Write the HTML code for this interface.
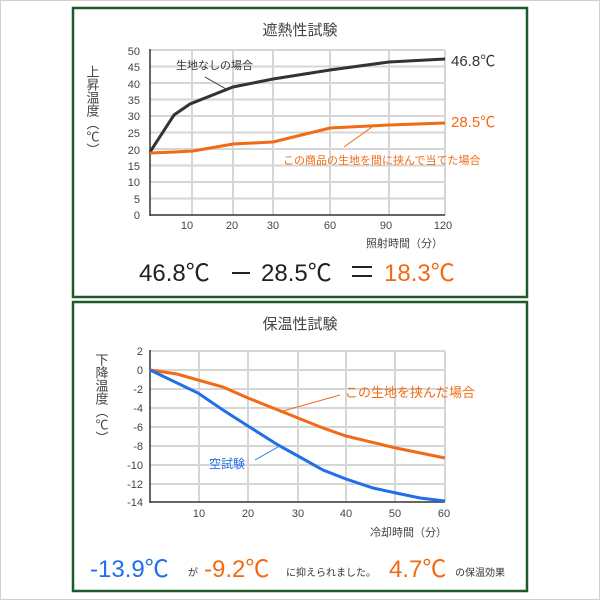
<!DOCTYPE html>
<html><head><meta charset="utf-8"><style>
html,body{margin:0;padding:0;background:#fff;}
svg{display:block;}
text{font-family:"Liberation Sans","Noto Sans CJK JP",sans-serif;}
</style></head><body>
<svg width="600" height="600" viewBox="0 0 600 600" xmlns="http://www.w3.org/2000/svg">
<rect x="0.5" y="0.5" width="599" height="599" fill="#fff" stroke="#cfcfcf"/>
<rect x="73" y="8" width="454" height="289" fill="#fff" stroke="#1f5a2a" stroke-width="2.5"/>
<rect x="73" y="302" width="454" height="289" fill="#fff" stroke="#1f5a2a" stroke-width="2.5"/>

<!-- Chart 1 -->
<text x="300" y="35" text-anchor="middle" font-size="15" fill="#444">遮熱性試験</text>
<g stroke="#d6d6d6" stroke-width="2">
<line x1="150" y1="50" x2="445" y2="50"/><line x1="150" y1="66.5" x2="445" y2="66.5"/><line x1="150" y1="83" x2="445" y2="83"/><line x1="150" y1="99.5" x2="445" y2="99.5"/><line x1="150" y1="116" x2="445" y2="116"/><line x1="150" y1="132.5" x2="445" y2="132.5"/><line x1="150" y1="149" x2="445" y2="149"/><line x1="150" y1="165.5" x2="445" y2="165.5"/><line x1="150" y1="182" x2="445" y2="182"/><line x1="150" y1="198.5" x2="445" y2="198.5"/>
<line x1="192" y1="50" x2="192" y2="215"/><line x1="233" y1="50" x2="233" y2="215"/><line x1="273" y1="50" x2="273" y2="215"/><line x1="330" y1="50" x2="330" y2="215"/><line x1="389" y1="50" x2="389" y2="215"/><line x1="445" y1="50" x2="445" y2="215"/>
</g>
<line x1="150" y1="49" x2="150" y2="216" stroke="#333" stroke-width="1.5"/>
<line x1="150" y1="215" x2="445" y2="215" stroke="#333" stroke-width="1.5"/>
<g font-size="11" fill="#444" text-anchor="end">
<text x="140" y="55">50</text><text x="140" y="71">45</text><text x="140" y="88">40</text><text x="140" y="104">35</text><text x="140" y="120">30</text><text x="140" y="137">25</text><text x="140" y="154">20</text><text x="140" y="170">15</text><text x="140" y="186">10</text><text x="140" y="203">5</text><text x="140" y="219">0</text>
</g>
<g font-size="11" fill="#444" text-anchor="middle">
<text x="187" y="229">10</text><text x="232" y="229">20</text><text x="273" y="229">30</text><text x="330" y="229">60</text><text x="386" y="229">90</text><text x="443" y="229">120</text>
</g>
<text x="443" y="247" text-anchor="end" font-size="11" fill="#444">照射時間（分）</text>
<text x="92" y="65" font-size="13" fill="#444" writing-mode="tb">上昇温度（℃）</text>
<polyline points="150,152 174,115 190,104 233,87 273,79 330,70 389,62 445,59" fill="none" stroke="#333" stroke-width="3"/>
<polyline points="150,153 175,152 193,151 233,144 273,142 330,128 389,125 445,123" fill="none" stroke="#f26a13" stroke-width="3"/>
<text x="176" y="69" font-size="11" fill="#333">生地なしの場合</text>
<line x1="205" y1="77" x2="226" y2="89" stroke="#333" stroke-width="1"/>
<text x="451" y="66" font-size="15" fill="#333">46.8℃</text>
<text x="451" y="127" font-size="15" fill="#f26a13">28.5℃</text>
<text x="283" y="164" font-size="11" fill="#f26a13">この商品の生地を間に挟んで当てた場合</text>
<line x1="344" y1="147" x2="372" y2="127" stroke="#f26a13" stroke-width="1"/>
<text x="139" y="281" font-size="24" fill="#222">46.8℃</text>
<rect x="232" y="272" width="18" height="2" fill="#222"/>
<text x="261" y="281" font-size="24" fill="#222">28.5℃</text>
<rect x="352" y="266" width="20" height="2" fill="#222"/>
<rect x="352" y="275" width="20" height="2" fill="#222"/>
<text x="384" y="281" font-size="24" fill="#f26a13">18.3℃</text>

<!-- Chart 2 -->
<text x="300" y="329" text-anchor="middle" font-size="15" fill="#444">保温性試験</text>
<g stroke="#d6d6d6" stroke-width="2">
<line x1="150" y1="351" x2="445" y2="351"/><line x1="150" y1="370" x2="445" y2="370"/><line x1="150" y1="389" x2="445" y2="389"/><line x1="150" y1="408" x2="445" y2="408"/><line x1="150" y1="427" x2="445" y2="427"/><line x1="150" y1="446" x2="445" y2="446"/><line x1="150" y1="465" x2="445" y2="465"/><line x1="150" y1="484" x2="445" y2="484"/>
<line x1="199" y1="351" x2="199" y2="502"/><line x1="248" y1="351" x2="248" y2="502"/><line x1="298" y1="351" x2="298" y2="502"/><line x1="346" y1="351" x2="346" y2="502"/><line x1="395" y1="351" x2="395" y2="502"/><line x1="445" y1="351" x2="445" y2="502"/>
</g>
<line x1="150" y1="350" x2="150" y2="503" stroke="#333" stroke-width="1.5"/>
<line x1="150" y1="502" x2="445" y2="502" stroke="#333" stroke-width="1.5"/>
<g font-size="11" fill="#444" text-anchor="end">
<text x="143" y="355">2</text><text x="143" y="374">0</text><text x="143" y="393">-2</text><text x="143" y="412">-4</text><text x="143" y="431">-6</text><text x="143" y="450">-8</text><text x="143" y="469">-10</text><text x="143" y="488">-12</text><text x="143" y="506">-14</text>
</g>
<g font-size="11" fill="#444" text-anchor="middle">
<text x="199" y="517">10</text><text x="248" y="517">20</text><text x="298" y="517">30</text><text x="346" y="517">40</text><text x="395" y="517">50</text><text x="444" y="517">60</text>
</g>
<text x="447" y="536" text-anchor="end" font-size="11" fill="#444">冷却時間（分）</text>
<text x="101" y="353" font-size="13" fill="#444" writing-mode="tb">下降温度（℃）</text>
<polyline points="150,370 177,374 198,380 223,387 248,398 298,418 323,428 346,436 396,448 445,458" fill="none" stroke="#f26a13" stroke-width="3"/>
<polyline points="150,370 198,393 223,410 248,426 278,445 298,456 323,470 346,479 373,488 396,493 420,498 445,501" fill="none" stroke="#1f6fe8" stroke-width="3"/>
<text x="345" y="397" font-size="13" fill="#f26a13">この生地を挟んだ場合</text>
<line x1="340" y1="395" x2="283" y2="411" stroke="#f26a13" stroke-width="1"/>
<text x="209" y="468" font-size="12" fill="#1f6fe8">空試験</text>
<line x1="255" y1="460" x2="278" y2="447" stroke="#1f6fe8" stroke-width="1"/>
<text x="90" y="577" font-size="24" fill="#1f6fe8">-13.9℃</text>
<text x="188" y="576" font-size="10" fill="#333">が</text>
<text x="204" y="577" font-size="24" fill="#f26a13">-9.2℃</text>
<text x="286" y="576" font-size="10" fill="#333">に抑えられました。</text>
<text x="389" y="577" font-size="24" fill="#f26a13">4.7℃</text>
<text x="455" y="576" font-size="10" fill="#333">の保温効果</text>
</svg>
</body></html>
